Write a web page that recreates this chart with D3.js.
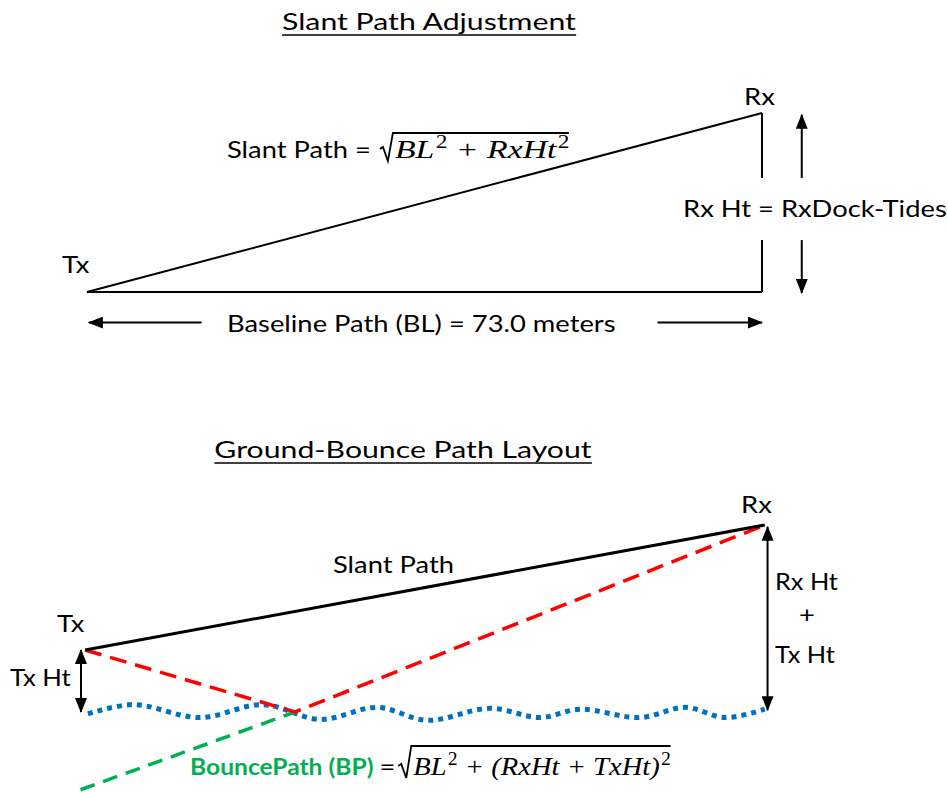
<!DOCTYPE html>
<html>
<head>
<meta charset="utf-8">
<script src="https://cdn.jsdelivr.net/npm/d3@7"></script>
<style>
body{margin:0;background:#fff;}
text{font-family:Lato,"Open Sans",sans-serif;fill:#000;}
.math{font-family:"Liberation Serif","DejaVu Serif",serif;font-style:italic;}
</style>
</head>
<body>
<div id="chart"></div>
<script>
var w = 948;
var h = 793;

// distances in meters (Tx at 0 along the baseline)
var baselineM = 73.0;
var titles = ["Slant Path Adjustment", "Ground-Bounce Path Layout"];

// top panel: triangle Tx -> Rx
var topTx = [0, 0];
var topRx = [73, 19.3];
var topCorner = [73, 0];
var topSideBreak = [12.3, 5.6];      // side is cut where the label sits
var topArrowX = 77.3;
var topArrowEnds = [19.1, -0.1];
var baseArrowY = -3.3;
var baseArrows = [[12.4, 0.2], [61.7, 73]];

// bottom panel: heights above water
var txPt = [-0.2, 6.7];
var rxPt = [73.3, 20.2];
var bouncePt = [22.5, 0];
var imagePt = [-0.7, -8.4];
var txHtArrowX = -0.65;
var sumArrowX = 73.6;
var sumArrowEnds = [20.0, 0.2];
// water surface (x m, y m)
var waveX = [0.1, 5.0, 12.2, 19.0, 25.2, 31.4, 36.8, 43.6, 49.0, 53.3, 59.8, 64.7, 69.0, 73.3];
var waveY = [-0.2, 0.8, -0.6, 0.8, -0.8, 0.5, -0.9, 0.4, -0.6, 0.3, -0.6, 0.5, -0.6, 0.3];

var xScale = d3.scaleLinear().domain([0, baselineM]).range([87, 762]);
var yTop = d3.scaleLinear().domain([0, 19.3]).range([292, 113]);
var yBot = d3.scaleLinear().domain([0, 20.2]).range([712, 525]);

// the source picture is a bit wide, text gets stretched sideways
var stretch = 1.19;
var titleStretch = 1.26;

var svg = d3.select("#chart").append("svg")
  .attr("width", w).attr("height", h);
svg.append("rect").attr("width", w).attr("height", h).attr("fill", "#fff");

var defs = svg.append("defs");
defs.append("marker")
  .attr("id", "head")
  .attr("markerUnits", "userSpaceOnUse")
  .attr("viewBox", "0 0 15 12")
  .attr("markerWidth", 15).attr("markerHeight", 12)
  .attr("refX", 14).attr("refY", 6)
  .attr("orient", "auto-start-reverse")
  .append("path").attr("d", "M0,0L15,6L0,12Z").attr("fill", "#000");

function seg(a, b, ys) {
  return svg.append("line")
    .attr("x1", xScale(a[0])).attr("y1", ys(a[1]))
    .attr("x2", xScale(b[0])).attr("y2", ys(b[1]));
}

function label(txt, x, y, size, k) {
  k = k || stretch;
  var g = svg.append("g").attr("transform", "translate(" + x + "," + y + ") scale(" + k + ",1)");
  var t = g.append("text").attr("x", 0).attr("y", 0)
    .style("font-size", (size || 23) + "px").text(txt);
  t.width = function() { return t.node().getComputedTextLength() * k; };
  t.g = g;
  return t;
}

function title(txt, cx, y) {
  var t = label(txt, cx, y, 24, titleStretch).attr("text-anchor", "middle");
  var bb = t.node().getBBox();
  t.g.append("line").attr("x1", bb.x).attr("x2", bb.x + bb.width)
    .attr("y1", 5).attr("y2", 5)
    .attr("stroke", "#000").attr("stroke-width", 1.6);
}

// radicand: list of [text, isSup]
function radical(x0, base, top, parts, k) {
  var g = svg.append("g")
    .attr("transform", "translate(" + (x0 + 15) + "," + base + ") scale(" + k + ",1)");
  var t = g.append("text").attr("class", "math").attr("xml:space", "preserve")
    .attr("x", 0).attr("y", 0).style("font-size", "26px");
  var up = false;
  parts.forEach(function(p) {
    var s = t.append("tspan").text(p[0]);
    if (p[1] && !up) {
      s.attr("dy", -10).attr("dx", 1).style("font-size", "18px").style("font-style", "normal");
      up = true;
    } else if (up && !p[1]) { s.attr("dy", 10); up = false; }
  });
  var end = x0 + 15 + t.node().getComputedTextLength() * k + 2;
  svg.append("path")
    .attr("d", "M" + x0 + "," + (base - 9) + "L" + (x0 + 3) + "," + (base - 11) +
      "L" + (x0 + 8) + "," + (base + 3) + "L" + (x0 + 13) + "," + top + "L" + end + "," + top)
    .attr("fill", "none").attr("stroke", "#000").attr("stroke-width", 1.8);
}

// ---------- top panel ----------
title(titles[0], 429, 30);

svg.append("path")
  .attr("d", d3.line()([[xScale(topTx[0]), yTop(topTx[1])], [xScale(topRx[0]), yTop(topRx[1])]]))
  .attr("stroke", "#000").attr("stroke-width", 2).attr("fill", "none");
seg(topTx, topCorner, yTop).attr("stroke", "#000").attr("stroke-width", 2);
seg(topRx, [topRx[0], topSideBreak[0]], yTop).attr("stroke", "#000").attr("stroke-width", 2);
seg([topCorner[0], topSideBreak[1]], topCorner, yTop).attr("stroke", "#000").attr("stroke-width", 2);

seg([topArrowX, topSideBreak[0]], [topArrowX, topArrowEnds[0]], yTop)
  .attr("stroke", "#000").attr("stroke-width", 2).attr("marker-end", "url(#head)");
seg([topArrowX, topSideBreak[1]], [topArrowX, topArrowEnds[1]], yTop)
  .attr("stroke", "#000").attr("stroke-width", 2).attr("marker-end", "url(#head)");

baseArrows.forEach(function(a) {
  seg([a[0], baseArrowY], [a[1], baseArrowY], yTop)
    .attr("stroke", "#000").attr("stroke-width", 2).attr("marker-end", "url(#head)");
});

label("Tx", 62, 273);
label("Rx", 744, 105);
label("Rx Ht = RxDock-Tides", 683, 217);
label("Baseline Path (BL) = 73.0 meters", 227, 332);
var sp = label("Slant Path = ", 227, 158);
radical(227 + sp.width() + 9, 158, 133,
  [["BL", 0], ["2", 1], [" + RxHt", 0], ["2", 1]], 1.3);

// ---------- bottom panel ----------
title(titles[1], 403, 458);

var wave = waveX.map(function(x, i) { return [xScale(x), yBot(waveY[i])]; });
svg.append("path")
  .attr("d", d3.line().curve(d3.curveCatmullRom)(wave))
  .attr("fill", "none").attr("stroke", "#0070c0")
  .attr("stroke-width", 5).attr("stroke-dasharray", "5,5");

function pt(p) { return [xScale(p[0]), yBot(p[1])]; }

svg.append("path")
  .attr("d", d3.line()([pt(imagePt), pt(bouncePt)]))
  .attr("fill", "none").attr("stroke", "#00b050")
  .attr("stroke-width", 3.5).attr("stroke-dasharray", "15,9");

svg.append("path")
  .attr("d", d3.line()([pt(txPt), pt(bouncePt), pt(rxPt)]))
  .attr("fill", "none").attr("stroke", "#ff0000")
  .attr("stroke-width", 3.5).attr("stroke-dasharray", "17,9");

svg.append("path")
  .attr("d", d3.line()([pt(txPt), pt(rxPt)]))
  .attr("fill", "none").attr("stroke", "#000").attr("stroke-width", 3);

seg([txHtArrowX, txPt[1]], [txHtArrowX, 0], yBot)
  .attr("stroke", "#000").attr("stroke-width", 2)
  .attr("marker-start", "url(#head)").attr("marker-end", "url(#head)");
seg([sumArrowX, sumArrowEnds[0]], [sumArrowX, sumArrowEnds[1]], yBot)
  .attr("stroke", "#000").attr("stroke-width", 2)
  .attr("marker-start", "url(#head)").attr("marker-end", "url(#head)");

label("Tx", 57, 632);
label("Rx", 741, 513);
label("Slant Path", 333, 573);
label("Tx Ht", 10, 686, 23, 1.12);
label("Rx Ht", 775, 590, 23, 1.1);
label("+", 807, 623).attr("text-anchor", "middle");
label("Tx Ht", 775, 663, 23, 1.1);

var bp = label("BouncePath (BP)", 190, 775, 23, 1.07)
  .style("fill", "#00b050").style("font-weight", "bold");
var eq = label("=", 190 + bp.width() + 6, 775);
var rx0 = 190 + bp.width() + 6 + eq.width() + 3;
radical(rx0, 775, 746,
  [["BL", 0], ["2", 1], [" + (RxHt + TxHt)", 0], ["2", 1]], 1.1);
</script>
</body>
</html>
